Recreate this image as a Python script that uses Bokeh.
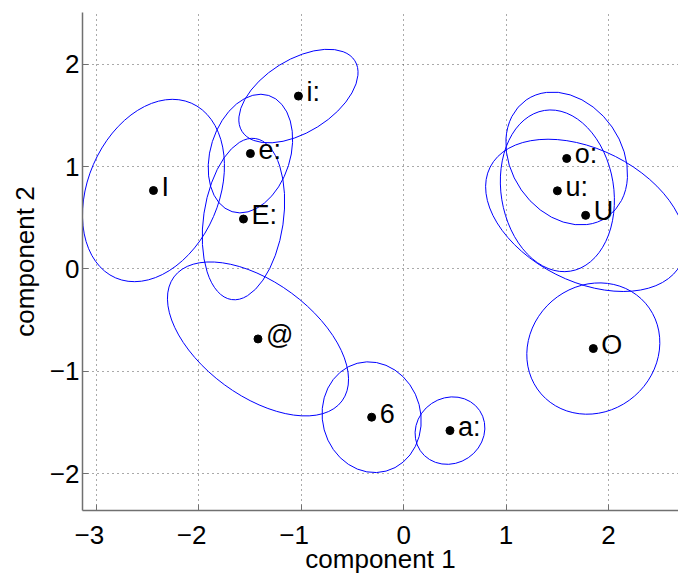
from bokeh.plotting import figure
from bokeh.models import Range1d, FixedTicker, ColumnDataSource
from bokeh.core.properties import value
from bokeh.embed import file_html
from bokeh.resources import INLINE

labels = ["I", "i:", "e:", "E:", "@", "6", "a:", "O", "o:", "u:", "U"]
comp1 = [-2.444, -1.028, -1.497, -1.565, -1.423, -0.313, 0.452, 1.852, 1.592, 1.501, 1.777]
comp2 = [0.767, 1.690, 1.128, 0.488, -0.684, -1.449, -1.580, -0.778, 1.080, 0.764, 0.524]
ell_width = [1.86, 1.30, 1.19, 1.59, 2.04, 1.09, 0.70, 1.35, 1.39, 1.59, 2.09]
ell_height = [1.28, 0.71, 0.78, 0.78, 1.11, 0.96, 0.64, 1.23, 1.08, 1.10, 1.29]
ell_angle = [66.6, 32.0, 72.5, 81.6, -36.4, -75.0, 34.0, 41.0, -55.3, -80.8, -26.8]

x_ticks = [-3, -2, -1, 0, 1, 2]
x_tick_labels = ["\u22123\u00a0\u00a0", "\u22122\u00a0\u00a0", "\u22121\u00a0\u00a0", "0", "1", "2"]
y_ticks = [-2, -1, 0, 1, 2]
y_tick_labels = ["\u22122", "\u22121", "0", "1", "2"]

src = ColumnDataSource(dict(x=comp1, y=comp2, label=labels, w=ell_width, h=ell_height, a=ell_angle))

FONT = "Liberation Sans"

p = figure(width=678, height=576, output_backend="svg", toolbar_location=None,
           x_range=Range1d(-3.137, 2.684), y_range=Range1d(-2.361, 2.507),
           min_border_left=82, min_border_right=0, min_border_top=12, min_border_bottom=65)

p.ellipse(x="x", y="y", width="w", height="h", angle="a", angle_units="deg", source=src,
          fill_color=None, line_color="#0000ff", line_width=1)
p.scatter(x="x", y="y", source=src, size=8, marker="circle", fill_color="black", line_color="black")
p.text(x="x", y="y", text="label", source=src, x_offset=8, y_offset=-4,
       text_baseline="alphabetic", text_align="left", text_font=value(FONT),
       text_font_size="27px", text_color="black")

p.outline_line_color = None
p.background_fill_color = "white"
p.border_fill_color = "white"

p.xaxis.ticker = FixedTicker(ticks=x_ticks)
p.yaxis.ticker = FixedTicker(ticks=y_ticks)
p.xaxis.major_label_overrides = {t: l for t, l in zip(x_ticks, x_tick_labels)}
p.yaxis.major_label_overrides = {t: l for t, l in zip(y_ticks, y_tick_labels)}
p.xgrid.ticker = FixedTicker(ticks=x_ticks)
p.ygrid.ticker = FixedTicker(ticks=y_ticks)

for g in (p.xgrid, p.ygrid):
    g.grid_line_color = "#555555"
    g.grid_line_dash = "1 4"
    g.grid_line_width = 1

for ax in (p.xaxis, p.yaxis):
    ax.axis_line_color = "#707070"
    ax.axis_line_width = 1.5
    ax.major_tick_line_color = "#707070"
    ax.major_tick_in = 6
    ax.major_tick_out = 0
    ax.minor_tick_line_color = None
    ax.major_label_text_font = FONT
    ax.major_label_text_font_size = "26px"
    ax.major_label_text_color = "black"
    ax.axis_label_text_font = FONT
    ax.axis_label_text_font_style = "normal"
    ax.axis_label_text_color = "black"
    ax.axis_label_text_font_size = "26px"

p.xaxis.axis_label = "component 1"
p.yaxis.axis_label = "component 2"
p.xaxis.major_label_standoff = 9
p.yaxis.major_label_standoff = 3
p.xaxis.axis_label_standoff = -9
p.yaxis.axis_label_standoff = 7

open("out.html", "w").write(file_html(p, INLINE))
